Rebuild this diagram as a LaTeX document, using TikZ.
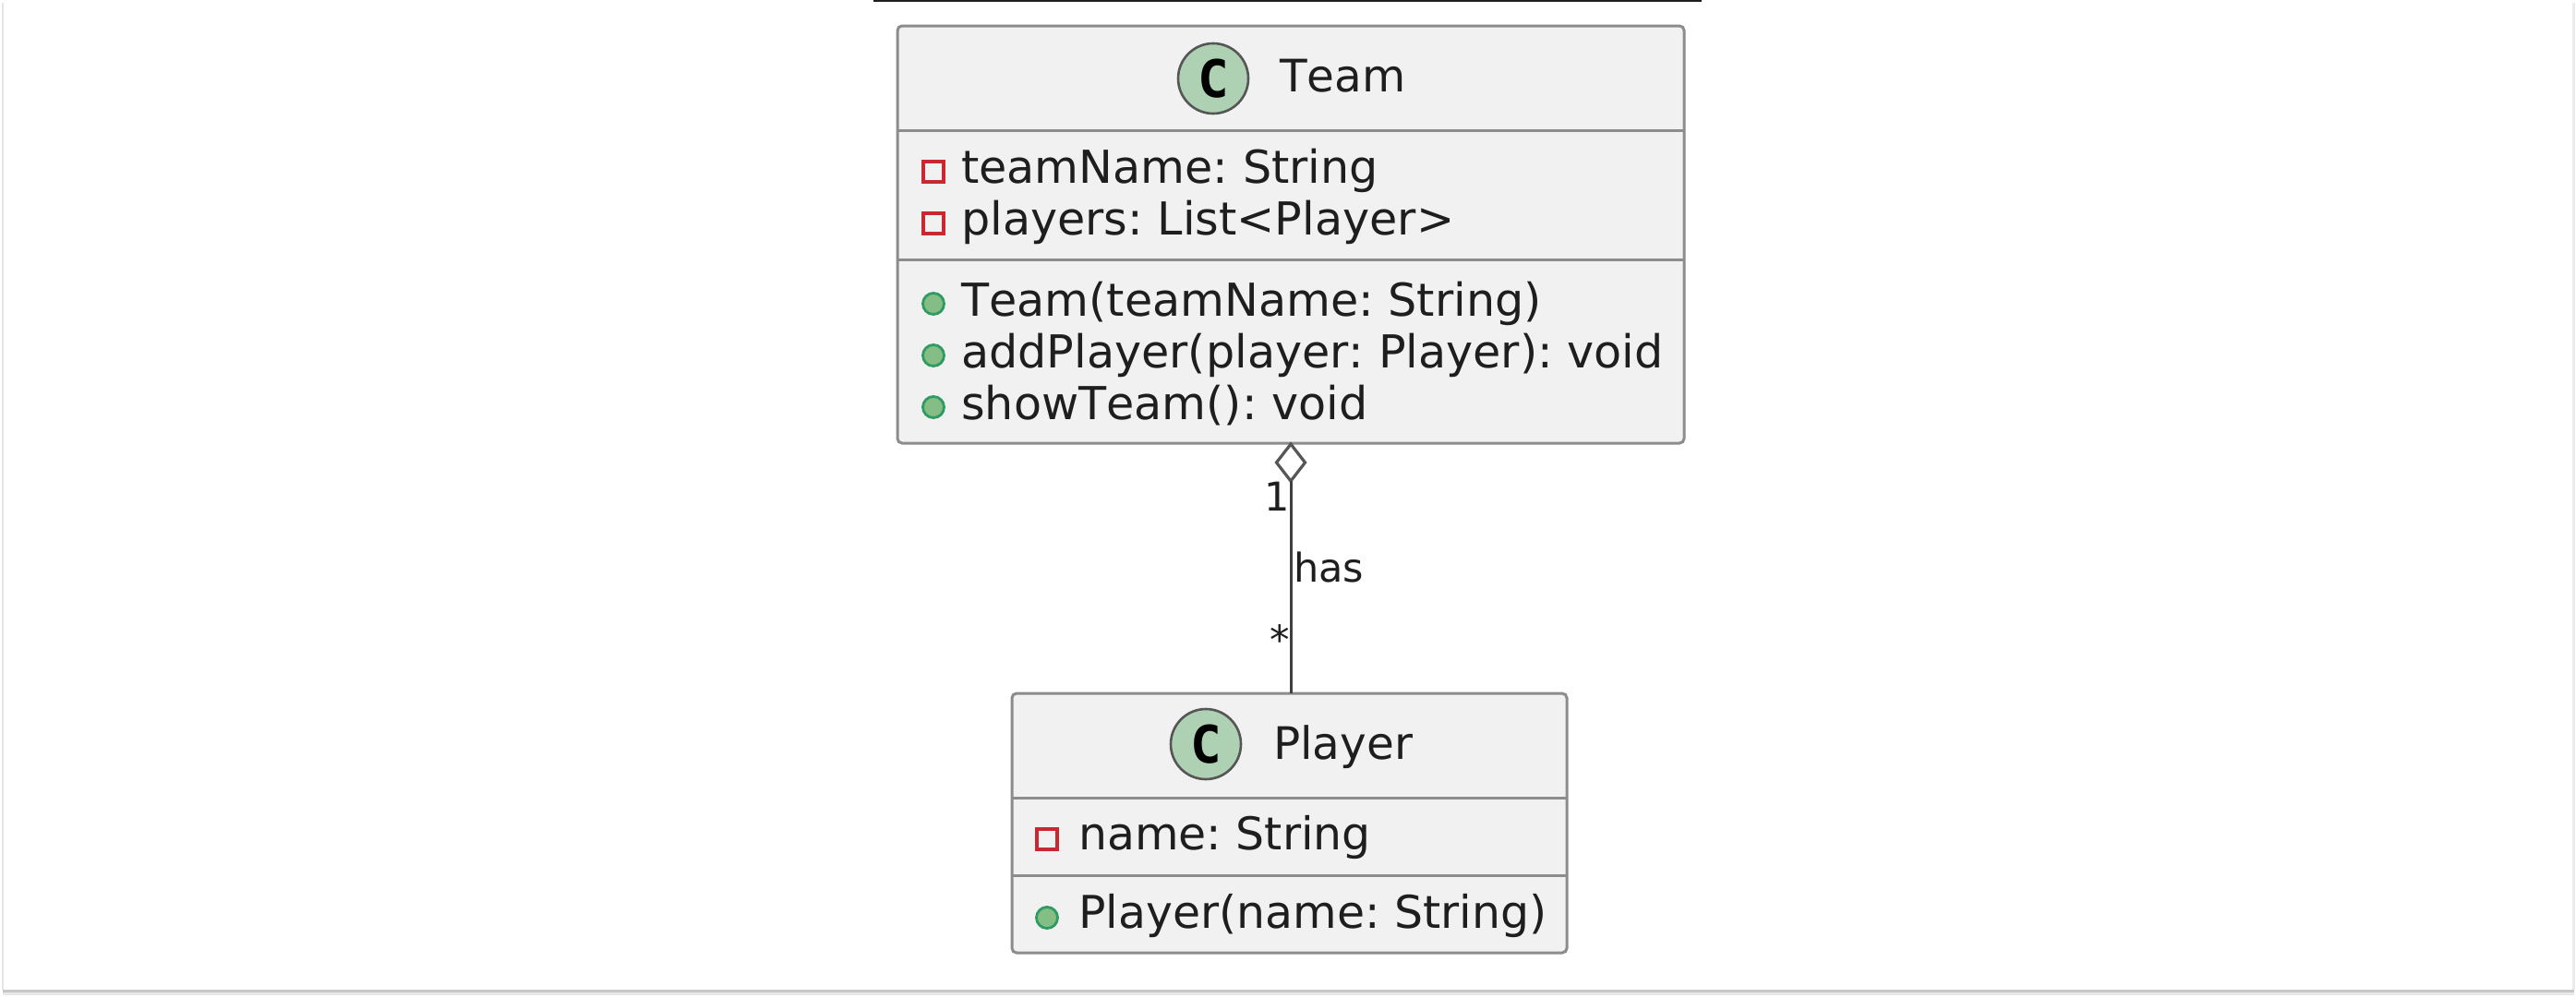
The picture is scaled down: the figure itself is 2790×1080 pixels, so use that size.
\documentclass[tikz,border=0pt]{standalone}
\usepackage{fontspec}
\setmainfont{DejaVu Sans}[Kerning=Off]
\newfontfamily\monob{DejaVu Sans Mono}[BoldFont={DejaVu Sans Mono Bold}]
\usetikzlibrary{shapes.geometric}
\definecolor{boxfill}{HTML}{F1F1F1}
\definecolor{boxline}{HTML}{8C8C8C}
\definecolor{ink}{HTML}{1E1E1E}
\definecolor{spot}{HTML}{ADD1B2}
\definecolor{privred}{HTML}{C82930}
\definecolor{pubgreen}{HTML}{2F9A62}
\definecolor{pubfill}{HTML}{84BE84}
\tikzset{
  x=1pt,y=-1pt,
  classbox/.style={draw=boxline,fill=boxfill,line width=3pt,rounded corners=5pt,inner sep=0pt,outer sep=0pt,anchor=north west},
  sep/.style={draw=boxline,line width=3pt},
  spotc/.style={circle,draw=ink!75,fill=spot,line width=2.6pt,minimum size=76pt,inner sep=0pt,outer sep=0pt,text=black,font=\fontsize{56}{56}\monob\bfseries},
  title/.style={anchor=base west,inner sep=0pt,text=ink,font=\fontsize{48.5}{48}\selectfont},
  member/.style={anchor=base west,inner sep=0pt,text=ink,font=\fontsize{49.2}{49}\selectfont\frenchspacing},
  pmember/.style={anchor=base west,inner sep=0pt,text=ink,font=\fontsize{48.9}{49}\selectfont\frenchspacing},
  lab/.style={anchor=base west,inner sep=0pt,text=ink,font=\fontsize{43}{43}\selectfont},
  priv/.style={rectangle,draw=privred,line width=3.2pt,fill=none,minimum size=22pt,inner sep=0pt,outer sep=0pt},
  pub/.style={circle,draw=pubgreen,fill=pubfill,line width=2.8pt,minimum size=23pt,inner sep=0pt,outer sep=0pt},
  conn/.style={draw=ink!85,line width=3pt},
  agg/.style={diamond,draw=ink!75,fill=white,line width=3.2pt,inner sep=0pt,outer sep=0pt,minimum width=31pt,minimum height=40pt},
  shadowa/.style={draw=black!22,line width=3pt},
  shadowb/.style={draw=black!9,line width=3pt},
}
\begin{document}
\begin{tikzpicture}
\useasboundingbox (0,0) rectangle (2790,1080);
\fill[white] (0,0) rectangle (2790,1080);
% page frame
\coordinate (fa) at (3,3);
\coordinate (fb) at (3,1072);
\coordinate (fc) at (2787,1072);
\coordinate (fd) at (2787,3);
\draw[draw=black!10,line width=2.5pt] (fa) -- (fb);
\draw[draw=black!8,line width=3pt] (fc) -- (fd);
\draw[shadowa] (3,1073.5) -- (2788,1073.5);
\draw[shadowb] (3,1076.5) -- (2788,1076.5);
% top rule
\coordinate (ra) at (946,1);
\coordinate (rb) at (1843,1);
\draw[draw=ink,line width=2.8pt] (ra) -- (rb);
% Team
\node[classbox,minimum width=852pt,minimum height=452pt] (team) at (972,28) {};
\draw[sep] (972,141) -- (1824,141);
\draw[sep] (972,281) -- (1824,281);
\node[spotc] (teamc) at (1314,85) {C};
\node[title] (teamt) at (1386,99) {Team};
\node[priv] (t1i) at (1011,186) {};
\node[member] (t1) at (1041,198) {teamName: String};
\node[priv] (t2i) at (1011,242) {};
\node[member] (t2) at (1041,254) {players: List<Player>};
\node[pub] (t3i) at (1011,329) {};
\node[member] (t3) at (1041,342) {Team(teamName: String)};
\node[pub] (t4i) at (1011,385) {};
\node[member] (t4) at (1041,398) {addPlayer(player: Player): void};
\node[pub] (t5i) at (1011,441) {};
\node[member] (t5) at (1041,454) {showTeam(): void};
% Player
\node[classbox,minimum width=601pt,minimum height=281pt] (player) at (1096,751) {};
\draw[sep] (1096,864) -- (1697,864);
\draw[sep] (1096,948) -- (1697,948);
\node[spotc] (playerc) at (1306,806) {C};
\node[title] (playert) at (1379,822) {Player};
\node[priv] (p1i) at (1134,909) {};
\node[pmember] (p1) at (1168,920) {name: String};
\node[pub] (p2i) at (1134,994) {};
\node[pmember] (p2) at (1168,1005) {Player(name: String)};
% association
\node[agg] (aggr) at (1398,501) {};
\draw[conn] (aggr.south) -- (aggr.south |- player.north);
\node[lab] (one) at (1369,553) {1};
\node[lab] (has) at (1401,630) {has};
\node[lab] (many) at (1375,708) {*};
\end{tikzpicture}
\end{document}
